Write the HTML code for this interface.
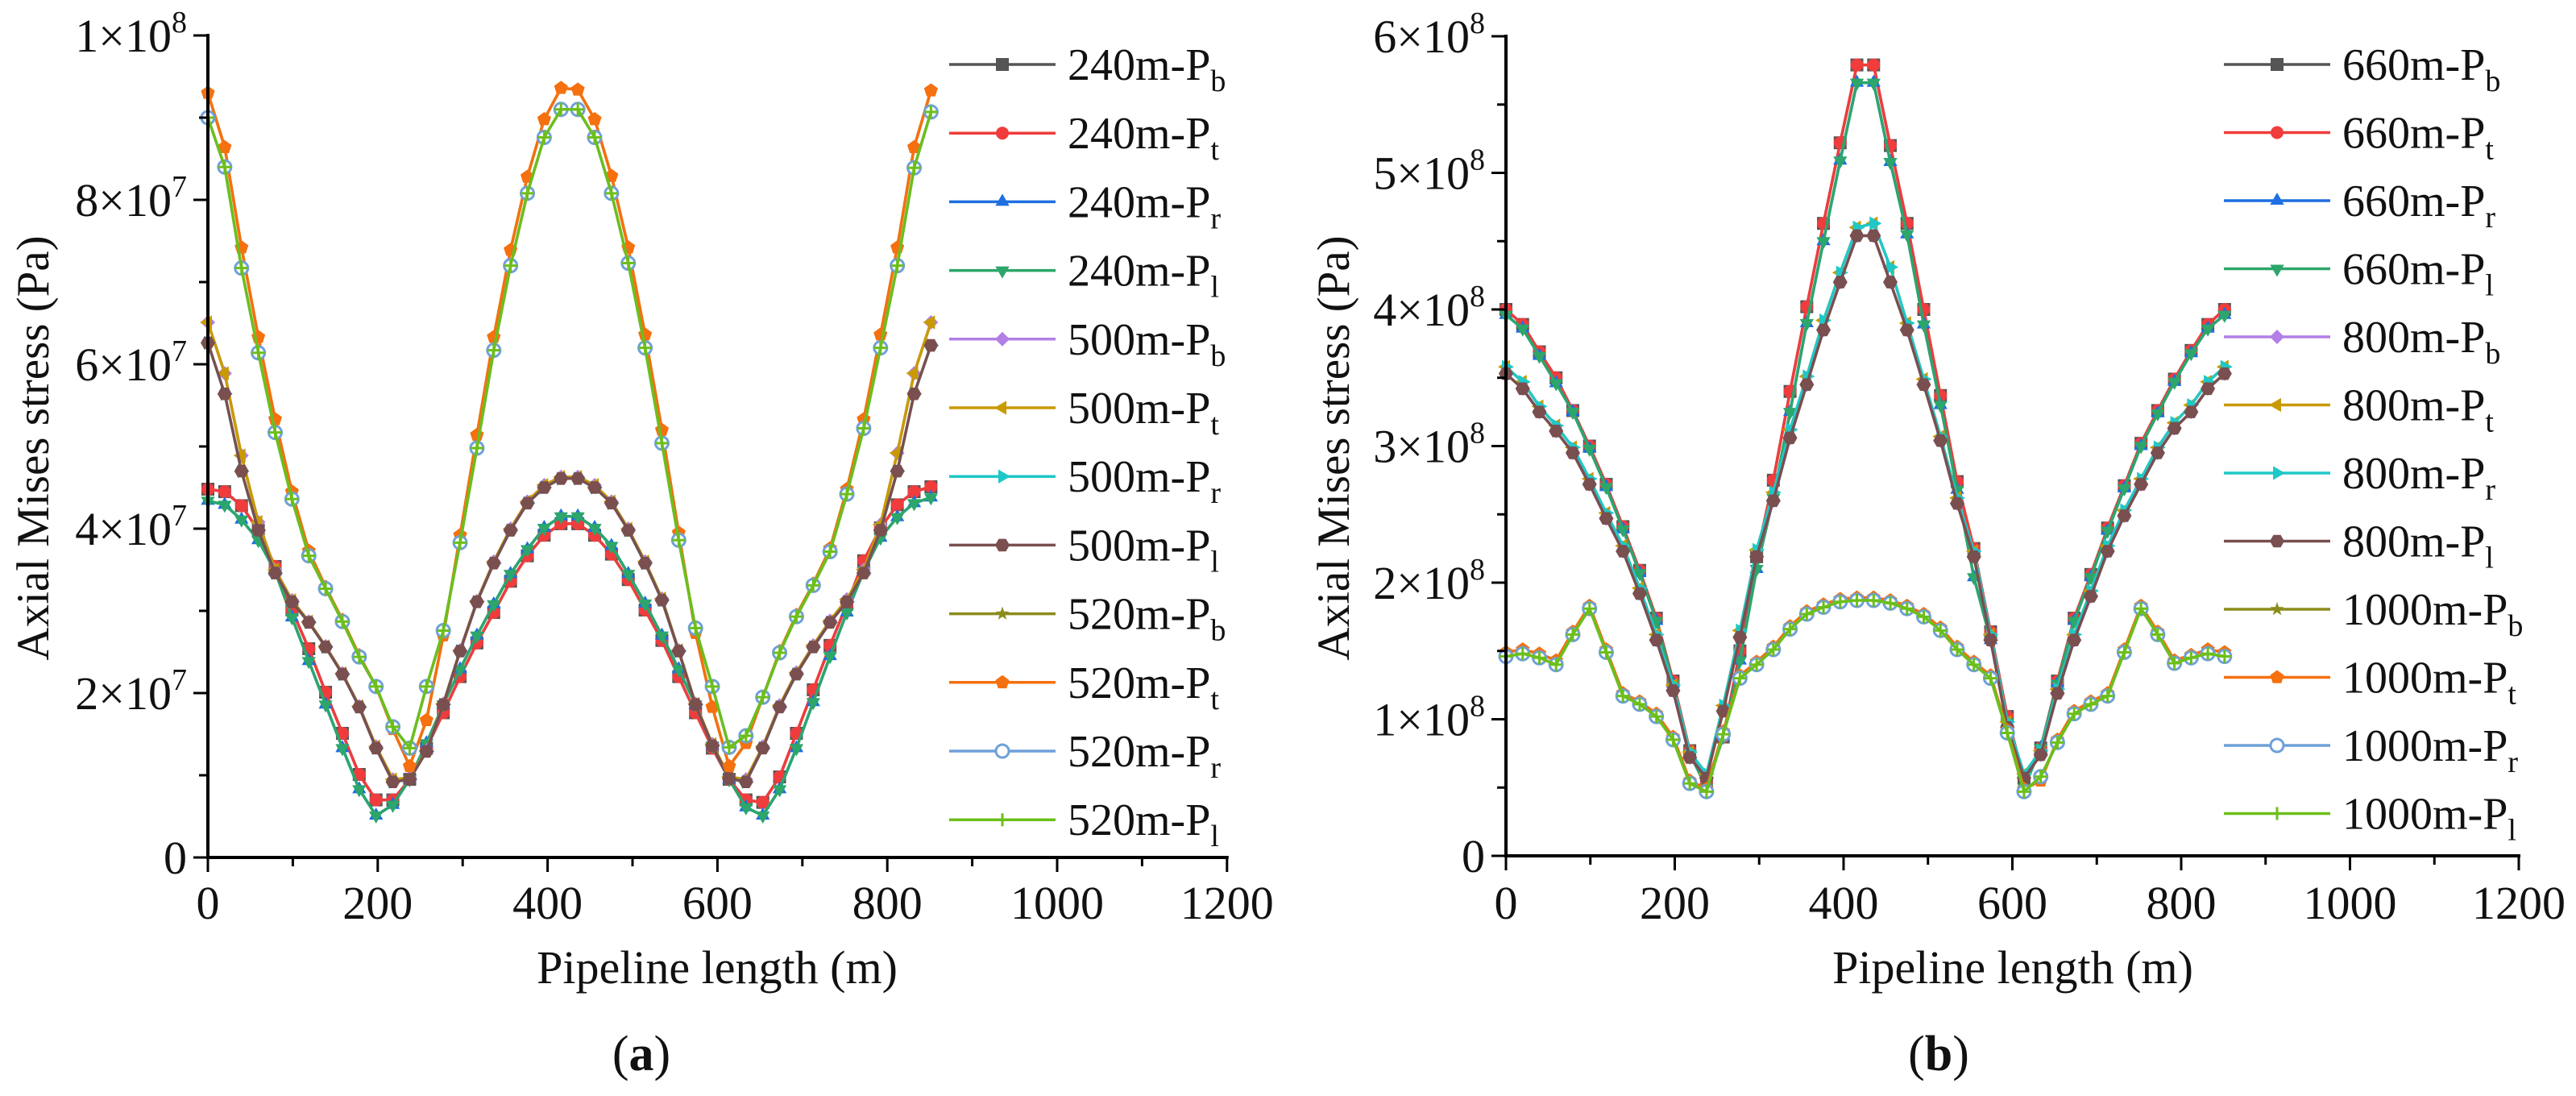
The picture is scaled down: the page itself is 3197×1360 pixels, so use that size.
<!DOCTYPE html>
<html><head><meta charset="utf-8"><style>
html,body{margin:0;padding:0;background:#fff}
svg{display:block;font-family:"Liberation Serif","DejaVu Serif",serif}
svg text, svg tspan{font-family:"Liberation Serif","DejaVu Serif",serif;fill:#111}
</style></head><body>
<svg id="fig" width="3197" height="1360" viewBox="0 0 3197 1360" xmlns="http://www.w3.org/2000/svg" font-family="Liberation Serif, DejaVu Serif, serif"></svg>
<script>
// ---- Panel (a) data, units 1e7 Pa ----
const xStep = 19.8;
const nPts = 44;
const A1 = [9.3,8.64,7.42,6.33,5.33,4.45,3.73,3.29,2.89,2.46,2.08,1.56,1.11,1.67,2.7,3.92,5.14,6.33,7.39,8.28,8.98,9.36,9.34,8.98,8.29,7.42,6.36,5.2,3.95,2.73,1.83,1.11,1.39,1.95,2.51,2.95,3.33,3.76,4.48,5.33,6.36,7.42,8.64,9.33];
const A2 = [9.0,8.4,7.17,6.14,5.17,4.36,3.67,3.27,2.87,2.44,2.08,1.59,1.33,2.08,2.76,3.83,4.98,6.17,7.2,8.08,8.76,9.1,9.1,8.76,8.08,7.23,6.2,5.04,3.86,2.79,2.08,1.34,1.48,1.95,2.49,2.93,3.31,3.72,4.42,5.22,6.2,7.2,8.39,9.07];
const B1 = [6.26,5.64,4.7,3.98,3.46,3.11,2.86,2.56,2.23,1.83,1.33,0.92,0.95,1.29,1.86,2.51,3.11,3.58,3.98,4.31,4.5,4.61,4.61,4.5,4.31,3.98,3.58,3.13,2.51,1.86,1.36,0.96,0.92,1.33,1.83,2.23,2.56,2.86,3.11,3.46,3.98,4.7,5.64,6.23];
const B2 = [6.51,5.89,4.89,4.08,3.5,3.13,2.87,2.57,2.24,1.84,1.35,0.95,0.97,1.3,1.87,2.52,3.12,3.6,4.0,4.33,4.53,4.63,4.63,4.53,4.33,4.0,3.6,3.15,2.52,1.87,1.38,0.98,0.95,1.35,1.85,2.25,2.58,2.88,3.14,3.5,4.05,4.92,5.89,6.51];
const C1 = [4.48,4.45,4.28,3.98,3.54,3.01,2.54,2.01,1.51,1.01,0.7,0.7,0.95,1.33,1.76,2.2,2.61,2.98,3.36,3.67,3.92,4.06,4.06,3.92,3.69,3.38,3.01,2.64,2.2,1.76,1.33,0.95,0.7,0.67,0.98,1.51,2.04,2.58,3.08,3.61,4.01,4.29,4.45,4.51];
const C2 = [4.34,4.29,4.11,3.86,3.48,2.92,2.39,1.86,1.33,0.83,0.51,0.64,0.95,1.39,1.86,2.29,2.7,3.08,3.45,3.75,4.01,4.15,4.15,4.01,3.79,3.45,3.09,2.7,2.29,1.86,1.36,0.95,0.61,0.51,0.83,1.33,1.89,2.45,2.98,3.48,3.89,4.14,4.31,4.38];
// ---- Panel (b) data, units 1e8 Pa ----
const D1 = [4.0,3.89,3.69,3.5,3.26,3.0,2.72,2.41,2.09,1.74,1.28,0.77,0.53,0.87,1.5,2.19,2.75,3.4,4.02,4.63,5.22,5.79,5.79,5.2,4.63,4.0,3.37,2.74,2.25,1.64,1.02,0.57,0.79,1.28,1.74,2.06,2.4,2.71,3.02,3.26,3.49,3.7,3.89,4.0];
const D2 = [3.96,3.86,3.66,3.46,3.25,2.98,2.7,2.39,2.07,1.72,1.26,0.75,0.5,0.87,1.43,2.1,2.62,3.25,3.9,4.5,5.09,5.66,5.66,5.08,4.55,3.89,3.3,2.68,2.04,1.58,0.98,0.5,0.79,1.26,1.72,2.04,2.38,2.69,3.0,3.24,3.47,3.68,3.86,3.96];
const E1 = [3.53,3.42,3.25,3.11,2.95,2.72,2.47,2.23,1.92,1.58,1.21,0.72,0.57,1.06,1.6,2.19,2.6,3.06,3.45,3.85,4.2,4.54,4.54,4.2,3.85,3.45,3.04,2.58,2.19,1.58,0.94,0.57,0.74,1.19,1.58,1.9,2.23,2.49,2.72,2.95,3.13,3.25,3.42,3.53];
const E2 = [3.58,3.47,3.29,3.15,2.99,2.76,2.51,2.27,1.96,1.62,1.25,0.76,0.6,1.1,1.65,2.24,2.66,3.12,3.51,3.92,4.27,4.6,4.63,4.31,3.9,3.49,3.07,2.62,2.23,1.62,0.98,0.6,0.77,1.22,1.62,1.94,2.27,2.53,2.76,2.99,3.17,3.3,3.47,3.58];
const F1 = [1.49,1.51,1.48,1.43,1.64,1.83,1.51,1.19,1.13,1.04,0.87,0.55,0.49,0.91,1.32,1.42,1.53,1.68,1.79,1.84,1.88,1.89,1.89,1.87,1.83,1.77,1.67,1.53,1.42,1.32,0.92,0.49,0.55,0.85,1.06,1.13,1.19,1.51,1.83,1.64,1.43,1.47,1.51,1.49];
const F2 = [1.46,1.48,1.45,1.4,1.62,1.81,1.49,1.17,1.11,1.02,0.85,0.53,0.47,0.89,1.3,1.4,1.51,1.66,1.77,1.82,1.86,1.87,1.87,1.85,1.81,1.75,1.65,1.51,1.4,1.3,0.9,0.47,0.58,0.83,1.04,1.11,1.17,1.49,1.81,1.62,1.41,1.45,1.48,1.46];
const xTicks = [0,200,400,600,800,1000,1200];
const yTicksA = [0,2,4,6,8,10];
const yTicksB = [0,1,2,3,4,5,6];
const seriesA = [
 {label:"240m-P", sub:"b", color:"#555555", mk:"square", data:C1},
 {label:"240m-P", sub:"t", color:"#f03c3c", mk:"circle", data:C1},
 {label:"240m-P", sub:"r", color:"#1f6fe0", mk:"tri-up", data:C2},
 {label:"240m-P", sub:"l", color:"#2ca66b", mk:"tri-down", data:C2},
 {label:"500m-P", sub:"b", color:"#b27fe6", mk:"diamond", data:B2},
 {label:"500m-P", sub:"t", color:"#c99a00", mk:"tri-left", data:B2},
 {label:"500m-P", sub:"r", color:"#1fc8c8", mk:"tri-right", data:B1},
 {label:"500m-P", sub:"l", color:"#7a4f4f", mk:"hex", data:B1},
 {label:"520m-P", sub:"b", color:"#8c8c1e", mk:"star", data:A1},
 {label:"520m-P", sub:"t", color:"#f5700f", mk:"pent", data:A1},
 {label:"520m-P", sub:"r", color:"#6fa0d8", mk:"ocircle", data:A2},
 {label:"520m-P", sub:"l", color:"#6cbf1a", mk:"plus", data:A2}
];
const seriesB = [
 {label:"660m-P", sub:"b", color:"#555555", mk:"square", data:D1},
 {label:"660m-P", sub:"t", color:"#f03c3c", mk:"circle", data:D1},
 {label:"660m-P", sub:"r", color:"#1f6fe0", mk:"tri-up", data:D2},
 {label:"660m-P", sub:"l", color:"#2ca66b", mk:"tri-down", data:D2},
 {label:"800m-P", sub:"b", color:"#b27fe6", mk:"diamond", data:E1},
 {label:"800m-P", sub:"t", color:"#c99a00", mk:"tri-left", data:E2},
 {label:"800m-P", sub:"r", color:"#1fc8c8", mk:"tri-right", data:E2},
 {label:"800m-P", sub:"l", color:"#7a4f4f", mk:"hex", data:E1},
 {label:"1000m-P", sub:"b", color:"#8c8c1e", mk:"star", data:F1},
 {label:"1000m-P", sub:"t", color:"#f5700f", mk:"pent", data:F1},
 {label:"1000m-P", sub:"r", color:"#6fa0d8", mk:"ocircle", data:F2},
 {label:"1000m-P", sub:"l", color:"#6cbf1a", mk:"plus", data:F2}
];
const NS = "http://www.w3.org/2000/svg";
const FONT = "Liberation Serif, DejaVu Serif, serif";
const svg = document.getElementById('fig');
function mk(tag, attrs, parent){ const e=document.createElementNS(NS,tag); for(const k in attrs) e.setAttribute(k,attrs[k]); if(tag==='text') e.setAttribute('font-family',FONT); (parent||svg).appendChild(e); return e; }
function marker(g, type, x, y, color){
  const r=8; let e;
  if(type==="circle"||type==="ocircle"){ e=mk('circle',{cx:x,cy:y,r:r,fill:type==="ocircle"?"#fff":color,stroke:color,'stroke-width':type==="ocircle"?3:0},g); }
  else if(type==="square"){ e=mk('rect',{x:x-r,y:y-r,width:2*r,height:2*r,fill:color},g); }
  else { let pts=[];
    const poly=(n,rot,rad)=>{for(let k=0;k<n;k++){const a=rot+k*2*Math.PI/n;pts.push([x+rad*Math.cos(a),y+rad*Math.sin(a)]);}};
    if(type==="tri-up") poly(3,-Math.PI/2,r+2);
    else if(type==="tri-down") poly(3,Math.PI/2,r+2);
    else if(type==="tri-left") poly(3,Math.PI,r+2);
    else if(type==="tri-right") poly(3,0,r+2);
    else if(type==="diamond") poly(4,-Math.PI/2,r+1);
    else if(type==="hex") poly(6,0,r+1);
    else if(type==="pent") poly(5,-Math.PI/2,r+1);
    else if(type==="star"){ for(let k=0;k<10;k++){const a=-Math.PI/2+k*Math.PI/5;const rr=k%2?r*0.45:r+1;pts.push([x+rr*Math.cos(a),y+rr*Math.sin(a)]);} }
    else if(type==="plus"){ e=mk('path',{d:`M${x-r} ${y}H${x+r}M${x} ${y-r}V${y+r}`,stroke:color,'stroke-width':3,fill:'none'},g); return e; }
    e=mk('polygon',{points:pts.map(p=>p.join(',')).join(' '),fill:color},g);
  }
  return e;
}
function panel(cfg){
  const {x0,pxPerM,y0,pxPerUnit,yTicks,yMinor,exps,series,legX,legY,legStep,name} = cfg;
  const sx = m => x0 + m*pxPerM;
  const sy = v => y0 - v*pxPerUnit;
  const g = mk('g',{});
  
  
  series.forEach((s,si)=>{
    const sg = mk('g',{},g);
    
    
    const d = s.data.map((v,i)=>(i?'L':'M')+sx(i*xStep).toFixed(1)+' '+sy(v).toFixed(1)).join('');
    mk('path',{d:d,fill:'none',stroke:s.color,'stroke-width':3.5,'stroke-linejoin':'round'},sg);
    s.data.forEach((v,i)=>marker(sg,s.mk,sx(i*xStep),sy(v),s.color));
  });
  const ax = mk('g',{},g);
  
  
  const xEnd = sx(1200);
  mk('line',{x1:x0,y1:y0,x2:xEnd+2,y2:y0,stroke:'#000','stroke-width':4},ax);
  mk('line',{x1:x0,y1:y0+2,x2:x0,y2:sy(yTicks[yTicks.length-1])-2,stroke:'#000','stroke-width':4},ax);
  xTicks.forEach((t,k)=>{
    mk('line',{x1:sx(t),y1:y0,x2:sx(t),y2:y0+18,stroke:'#000','stroke-width':3},ax);
    if(k<xTicks.length-1) mk('line',{x1:sx(t+100),y1:y0,x2:sx(t+100),y2:y0+11,stroke:'#000','stroke-width':3},ax);
    const tx = mk('text',{x:sx(t),y:1140,'text-anchor':'middle','font-size':58},ax);
    tx.textContent = t;
    
    
  });
  yTicks.forEach((t,k)=>{
    mk('line',{x1:x0-18,y1:sy(t),x2:x0,y2:sy(t),stroke:'#000','stroke-width':3},ax);
    if(k<yTicks.length-1) mk('line',{x1:x0-11,y1:sy(t+yMinor),x2:x0,y2:sy(t+yMinor),stroke:'#000','stroke-width':3},ax);
    const tx = mk('text',{x:x0-26,y:sy(t)+20,'text-anchor':'end','font-size':58},ax);
    
    
    if(t===0){ tx.textContent='0'; }
    else { const lab = exps[k];
      const a=document.createElementNS(NS,'tspan'); a.textContent=lab[0]+'\u00d710'; tx.appendChild(a);
      const b=document.createElementNS(NS,'tspan'); b.setAttribute('font-size','38'); b.setAttribute('dy','-24'); b.textContent=lab[1]; tx.appendChild(b); }
  });
  const lg = mk('g',{},g);
  
  
  series.forEach((s,si)=>{
    const y = legY + si*legStep;
    const eg = mk('g',{},lg);
    
    
    mk('line',{x1:legX,y1:y,x2:legX+132,y2:y,stroke:s.color,'stroke-width':3.5},eg);
    marker(eg,s.mk,legX+66,y,s.color);
    const tx = mk('text',{x:legX+147,y:y+19,'font-size':56},eg);
    const a=document.createElementNS(NS,'tspan'); a.textContent=s.label; tx.appendChild(a);
    const b=document.createElementNS(NS,'tspan'); b.setAttribute('font-size','38'); b.setAttribute('dy','14'); b.textContent=s.sub; tx.appendChild(b);
  });
  return g;
}
panel({name:'chart-a',x0:258,pxPerM:210.8/200,y0:1064,pxPerUnit:102,yTicks:yTicksA,yMinor:1,
  exps:[null,['2','7'],['4','7'],['6','7'],['8','7'],['1','8']],series:seriesA,legX:1178,legY:80,legStep:85.2});
panel({name:'chart-b',x0:1869,pxPerM:209.5/200,y0:1062,pxPerUnit:169.5,yTicks:yTicksB,yMinor:0.5,
  exps:[null,['1','8'],['2','8'],['3','8'],['4','8'],['5','8'],['6','8']],series:seriesB,legX:2760,legY:80,legStep:84.5});
function txt(s,attrs,name){ const t=mk('text',attrs); t.textContent=s;   return t; }
txt('Pipeline length (m)',{x:890,y:1220,'text-anchor':'middle','font-size':58},'x-axis-title-a');
txt('Pipeline length (m)',{x:2498,y:1220,'text-anchor':'middle','font-size':58},'x-axis-title-b');
txt('Axial Mises stress (Pa)',{x:0,y:0,'text-anchor':'middle','font-size':57,transform:'translate(60,556) rotate(-90)'},'y-axis-title-a');
txt('Axial Mises stress (Pa)',{x:0,y:0,'text-anchor':'middle','font-size':57,transform:'translate(1674,556) rotate(-90)'},'y-axis-title-b');
const pa = txt('',{x:796,y:1328,'text-anchor':'middle','font-size':62},'panel-label-a');
pa.innerHTML='(<tspan font-weight="bold">a</tspan>)';
const pb = txt('',{x:2406,y:1328,'text-anchor':'middle','font-size':62},'panel-label-b');
pb.innerHTML='(<tspan font-weight="bold">b</tspan>)';
</script>
</body></html>
